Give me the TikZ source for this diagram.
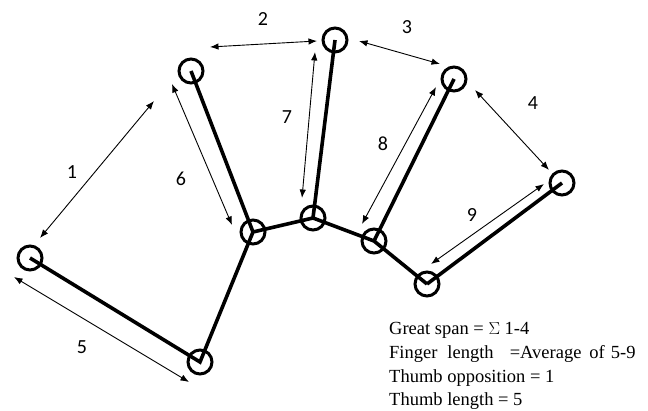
\documentclass[tikz,border=0pt]{standalone}
\usepackage{fontspec}
\setmainfont{Liberation Serif}
\newfontfamily\labelfont{Carlito}
\usetikzlibrary{arrows.meta}
\begin{document}
\begin{tikzpicture}[x=1pt,y=-1pt,
  joint/.style={circle,draw,line width=3pt,minimum size=24pt,inner sep=0pt},
  bone/.style={line width=3.6pt},
  measure/.style={line width=0.9pt,{Latex[length=8.5pt,width=6.5pt]}-{Latex[length=8.5pt,width=6.5pt]}},
  num/.style={font=\labelfont\fontsize{20}{20}\selectfont},
  legend/.style={font=\fontsize{18.5}{18.5}\selectfont,anchor=base west,inner sep=0pt}]
\useasboundingbox (0,0) rectangle (648,411);

% joints
\node[joint] (tt) at (30,258) {};
\node[joint] (wr) at (200,362) {};
\node[joint] (k1) at (253,232) {};
\node[joint] (f1) at (191,71) {};
\node[joint] (k2) at (313,218) {};
\node[joint] (f2) at (335,40) {};
\node[joint] (k3) at (374,241) {};
\node[joint] (f3) at (454,79) {};
\node[joint] (k4) at (427,284) {};
\node[joint] (f4) at (562,183) {};

% skeleton
\draw[bone] (tt.center) -- (wr.center) -- (k1.center) -- (k2.center) -- (k3.center) -- (k4.center);
\draw[bone] (k1.center) -- (f1.center);
\draw[bone] (k2.center) -- (f2.center);
\draw[bone] (k3.center) -- (f3.center);
\draw[bone] (k4.center) -- (f4.center);

% measurement end points
\coordinate (a1) at (154,101);  \coordinate (b1) at (40,238);
\coordinate (a2) at (210,47);   \coordinate (b2) at (317,41);
\coordinate (a3) at (359,41);   \coordinate (b3) at (440,64);
\coordinate (a4) at (475,90);   \coordinate (b4) at (549,170);
\coordinate (a5) at (14,277);   \coordinate (b5) at (189,382);
\coordinate (a6) at (172,84);   \coordinate (b6) at (232,225);
\coordinate (a7) at (315,52);   \coordinate (b7) at (302,198);
\coordinate (a8) at (436,87);   \coordinate (b8) at (362,224);
\coordinate (a9) at (544,184);  \coordinate (b9) at (431,264);

\foreach \i in {1,...,9} \draw[measure] (a\i) -- (b\i);

% measurement numbers
\node[num] (n1) at (72,172) {1};
\node[num] (n2) at (263,19) {2};
\node[num] (n3) at (407,27) {3};
\node[num] (n4) at (533,103) {4};
\node[num] (n5) at (82,347) {5};
\node[num] (n6) at (181,179) {6};
\node[num] (n7) at (287,117) {7};
\node[num] (n8) at (383,144) {8};
\node[num] (n9) at (472,215) {9};

% legend
\node[legend] (l1) at (389,335) {Great span = $\Sigma$ 1-4};
\node[legend] (l2) at (389,359) {Finger\hspace{10pt}length\hspace{16pt}=Average\hspace{8pt}of\hspace{6pt}5-9};
\node[legend] (l3) at (389,383) {Thumb opposition = 1};
\node[legend] (l4) at (389,406) {Thumb length = 5};
\end{tikzpicture}
\end{document}
